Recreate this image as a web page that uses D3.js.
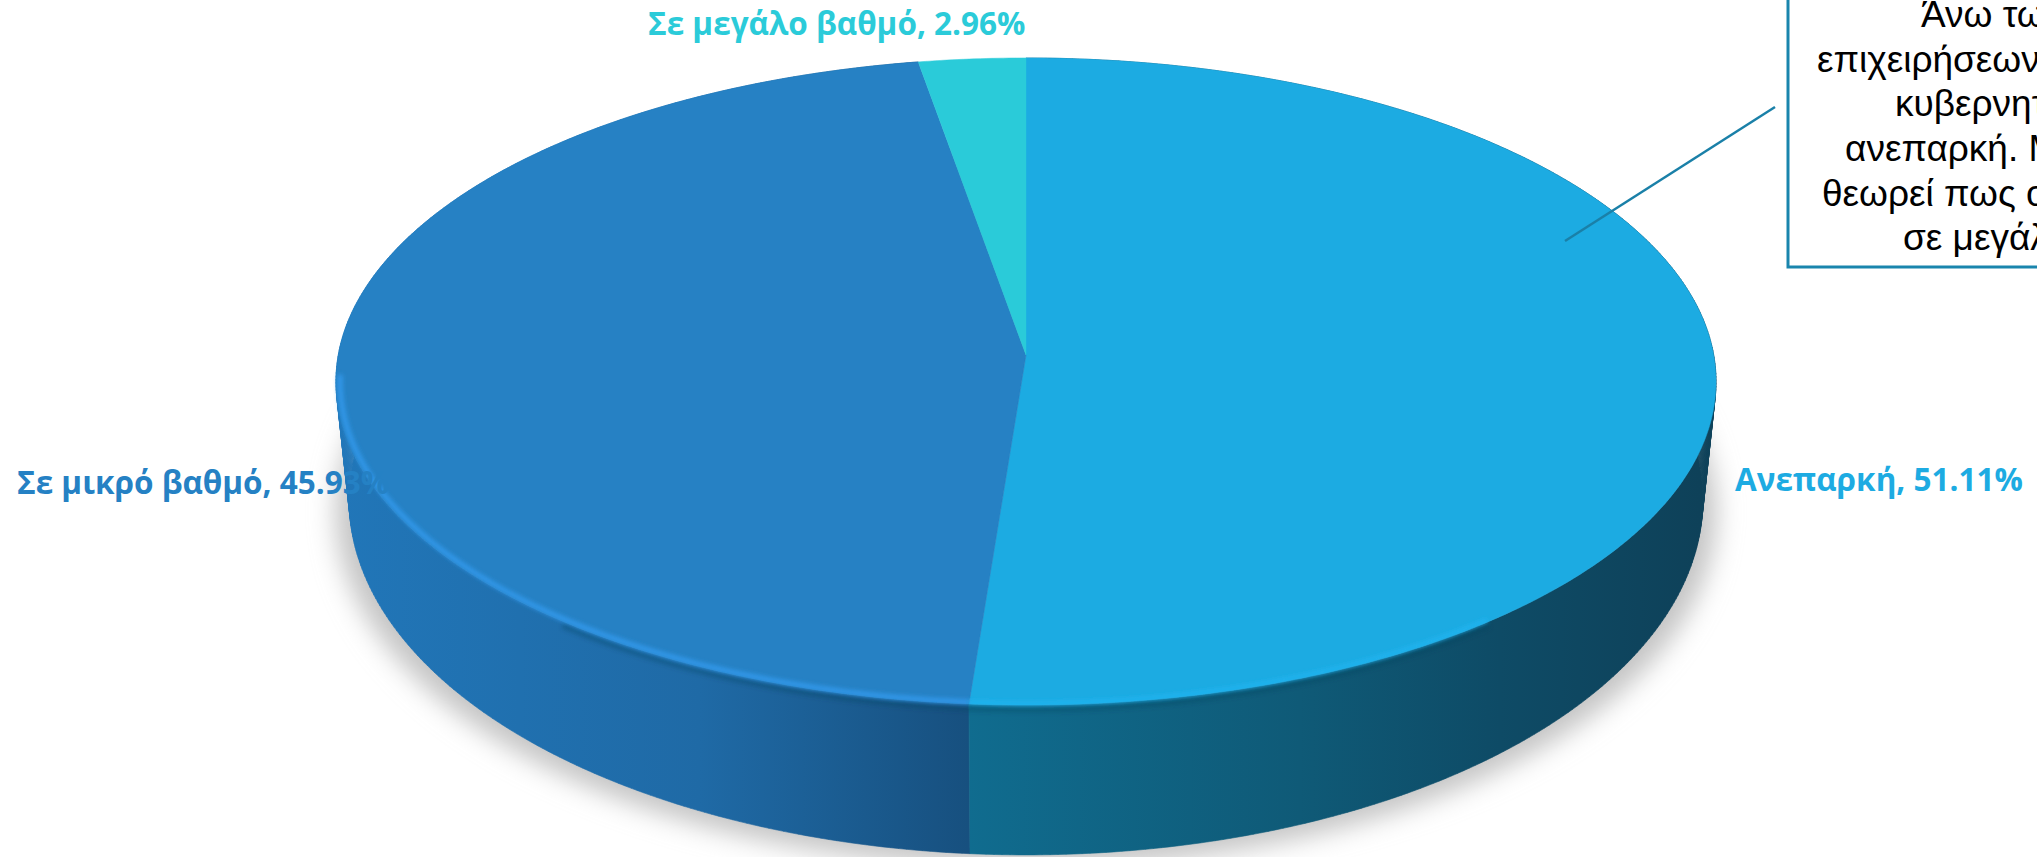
<!DOCTYPE html>
<html><head><meta charset="utf-8">
<script src="https://cdn.jsdelivr.net/npm/d3@7"></script>
<style>html,body{margin:0;padding:0;background:#fff;overflow:hidden}svg{display:block}</style>
</head><body><div id="c"></div>
<script>
const categories = ["Ανεπαρκή", "Σε μικρό βαθμό", "Σε μεγάλο βαθμό"];
const values = [51.11, 45.93, 2.96];
const colors = ["#1dabe2", "#2581c4", "#2bcbd9"];
const valueLabels = ["51.11%", "45.93%", "2.96%"];
const noteLines = ["Άνω των", "επιχειρήσεων", "κυβερνητική", "ανεπαρκή. Μ", "θεωρεί πως ο", "σε μεγάλο"];

const W = 2037, H = 857;
const svg = d3.select("#c").append("svg").attr("width", W).attr("height", H);
const defs = svg.append("defs");
const color = d3.scaleOrdinal(categories, colors);

const blur = (id, s) => defs.append("filter").attr("id", id)
  .attr("x", "-20%").attr("y", "-20%").attr("width", "140%").attr("height", "140%")
  .append("feGaussianBlur").attr("stdDeviation", s);
blur("shadow", 13); blur("rim", 2); blur("soft", 0.7);

// perspective disc: a = clockwise from the back of the disc
const k = 0.17, cx = 1026, apexY = 355, rimMidY = 381;
const topDisc = {R: 680, H: 314.2, y0: 326.5};
const lowDisc = {R: 667, H: 344.7, y0: 439.6};
const proj = (d, a) => {
  const s = Math.sin(a), c = Math.cos(a), w = 1 + k * c;
  return [cx + d.R * s / w, d.y0 - d.H * c / w];
};
const steps = (a0, a1, st = 0.01) => {
  const n = Math.max(2, Math.ceil((a1 - a0) / st));
  return d3.range(n + 1).map(i => a0 + (a1 - a0) * i / n);
};
const inset = (p, f) => [cx + (p[0] - cx) * f, rimMidY + (p[1] - rimMidY) * f];
const line = d3.line().curve(d3.curveLinear);

const arcs = d3.pie().sort(null).startAngle(0).endAngle(2 * Math.PI)(values)
  .map((d, i) => ({...d, cat: categories[i]}));

// ground shadow
svg.append("path")
  .attr("d", line(steps(0, 2 * Math.PI).map(a => {
    const p = proj(lowDisc, a);
    return [cx + (p[0] - cx) * 1.02, p[1] + 12];
  })) + "Z")
  .attr("fill", "#c4c4c4").attr("filter", "url(#shadow)");

// side wall
const sideStops = [
  [[340, "#2176b8"], [700, "#1f6aa6"], [968, "#17507f"]],
  [[968, "#106c8f"], [1300, "#0f5a77"], [1500, "#0e4b66"], [1700, "#0e4159"]],
];
[arcs[1], arcs[0]].forEach(d => {
  const id = d.index === 0 ? "sideA" : "sideB";
  const st = sideStops[d.index === 0 ? 1 : 0];
  const g = defs.append("linearGradient").attr("id", id)
    .attr("gradientUnits", "userSpaceOnUse")
    .attr("x1", st[0][0]).attr("x2", st[st.length - 1][0]).attr("y1", 0).attr("y2", 0);
  st.forEach(s => g.append("stop")
    .attr("offset", (s[0] - st[0][0]) / (st[st.length - 1][0] - st[0][0]))
    .attr("stop-color", s[1]));
  const as = steps(d.startAngle, d.endAngle);
  const strips = d3.pairs(as).map(([a, b]) =>
    line([proj(topDisc, a), proj(topDisc, b), proj(lowDisc, b), proj(lowDisc, a)]) + "Z").join("");
  svg.append("path").attr("d", strips).attr("fill", `url(#${id})`)
    .attr("stroke", `url(#${id})`).attr("stroke-width", 0.6);
});

// shading under the rim, near the front only
svg.append("path")
  .attr("d", line(steps(Math.PI * 0.8, Math.PI * 1.2).map(a => {
    const p = proj(topDisc, a); return [p[0], p[1] + 4];
  })))
  .attr("fill", "none").attr("stroke", "#0c3f5e").attr("stroke-opacity", 0.3)
  .attr("stroke-width", 7).attr("filter", "url(#rim)");

// top face
const face = svg.append("g").attr("filter", "url(#soft)");
arcs.forEach(d => {
  const pts = steps(d.startAngle, d.endAngle).map(a => proj(topDisc, a));
  face.append("path").attr("d", line([[cx, apexY], ...pts]) + "Z")
    .attr("fill", color(d.cat)).attr("stroke", color(d.cat)).attr("stroke-width", 0.5);
});

// rim highlights
svg.append("path")
  .attr("d", line(steps(arcs[1].startAngle, Math.PI * 1.5 - 0.15).map(a => inset(proj(topDisc, a), 0.994))))
  .attr("fill", "none").attr("stroke", "#3098ea").attr("stroke-width", 5)
  .attr("filter", "url(#rim)");
svg.append("path")
  .attr("d", line(steps(Math.PI * 0.8, arcs[0].endAngle).map(a => inset(proj(topDisc, a), 0.995))))
  .attr("fill", "none").attr("stroke", "#20b4f0").attr("stroke-width", 4)
  .attr("filter", "url(#rim)");

// data labels
const labelPos = [[1735, 491], [17, 494], [648, 35]];
svg.selectAll("text.lab").data(arcs).join("text").attr("class", "lab")
  .attr("x", (d, i) => labelPos[i][0]).attr("y", (d, i) => labelPos[i][1])
  .attr("font-family", "'Open Sans'").attr("font-weight", 700).attr("font-size", 31.5)
  .attr("fill", d => color(d.cat))
  .text((d, i) => `${d.cat}, ${valueLabels[i]}`);

// callout
svg.append("line").attr("x1", 1775).attr("y1", 107).attr("x2", 1565).attr("y2", 241)
  .attr("stroke", "#1a80a8").attr("stroke-width", 2.5);
svg.append("path").attr("d", "M1788,-5V267H2045")
  .attr("fill", "none").attr("stroke", "#1a85ad").attr("stroke-width", 3);
const noteX = [1921, 1817, 1895, 1845, 1822, 1903];
const noteY = [27, 72, 116, 161, 206, 250];
svg.selectAll("text.note").data(noteLines).join("text").attr("class", "note")
  .attr("x", (d, i) => noteX[i]).attr("y", (d, i) => noteY[i])
  .attr("font-family", "'Liberation Sans'").attr("font-size", 37).attr("fill", "#000")
  .text(d => d);
</script></body></html>
